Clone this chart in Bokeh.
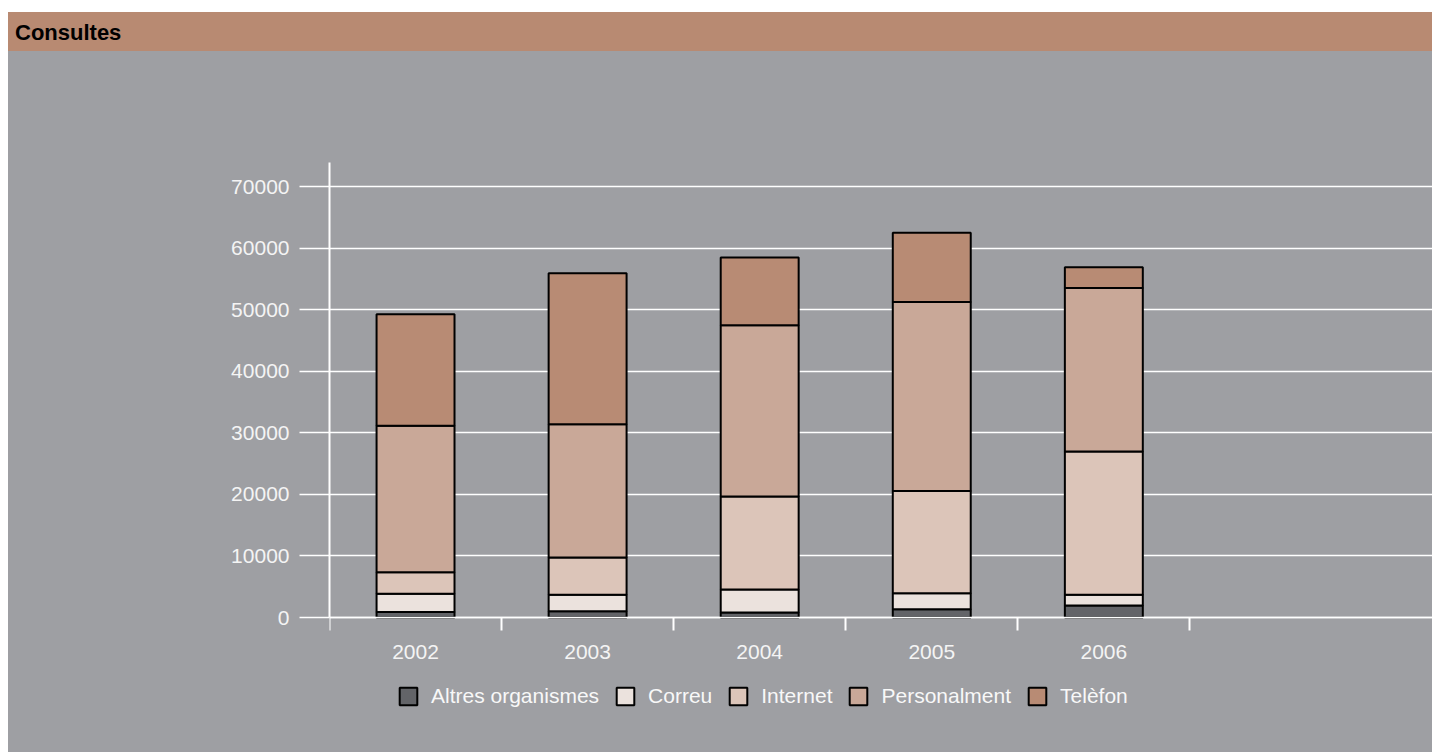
from bokeh.plotting import figure
from bokeh.layouts import column
from bokeh.models import (FixedTicker, LinearAxis, Legend, LegendItem, Range1d,
                          ColumnDataSource, Div)
from bokeh.embed import file_html
from bokeh.resources import INLINE

years = ["2002", "2003", "2004", "2005", "2006"]
series = ["Altres organismes", "Correu", "Internet", "Personalment", "Telèfon"]
altres = [900, 1000, 800, 1350, 1950]
correu = [2950, 2700, 3750, 2600, 1750]
internet = [3500, 6050, 15100, 16600, 23250]
personalment = [23800, 21650, 27800, 30700, 26550]
telefon = [18100, 24500, 11000, 11250, 3400]
y_ticks = [0, 10000, 20000, 30000, 40000, 50000, 60000, 70000]
colors = ["#636468", "#ebe2dd", "#dcc5b9", "#c9a898", "#b88b74"]

BG = "#9e9fa3"
BAR = "#b88a72"
FONT = "Liberation Sans"

# ---- title bar ----
title = Div(text="Consultes", width=1424, height=39, margin=(12, 0, 0, 8),
            styles={"background-color": BAR, "font-family": FONT, "font-size": "22px",
                    "font-weight": "bold", "color": "black", "line-height": "42px",
                    "padding-left": "7px", "box-sizing": "border-box",
                    "white-space": "nowrap"})

# ---- main chart ----
xs = [i + 0.5 for i in range(len(years))]
src = ColumnDataSource(dict(x=xs, s0=altres, s1=correu, s2=internet, s3=personalment, s4=telefon))

PX = 431 / 70000.0          # pixels per unit (0 -> 70000 spans 431 px)
Y_TOP = 455 / PX            # frame top 455 px above the zero line
Y_BOT = -135 / PX           # frame bottom 135 px below the zero line

p = figure(width=1424, height=701, output_backend="svg", toolbar_location=None,
           x_range=Range1d(0, 6.41), y_range=Range1d(Y_BOT, Y_TOP),
           min_border_left=321, min_border_right=0, min_border_top=111, min_border_bottom=0,
           x_axis_location=None, y_axis_location="left", margin=(0, 0, 0, 8),
           styles={"background-color": BG})
p.background_fill_color = BG
p.border_fill_color = BG
p.outline_line_color = None

ya = p.yaxis[0]
ya.bounds = (0, Y_TOP)
ya.ticker = FixedTicker(ticks=y_ticks)
ya.major_label_overrides = {v: str(v) for v in y_ticks}
ya.axis_line_color = "white"
ya.axis_line_width = 2
ya.major_tick_line_color = "white"
ya.major_tick_line_width = 1.5
ya.major_tick_out = 30
ya.major_tick_in = 0
ya.minor_tick_line_color = None
ya.major_label_standoff = 10
ya.major_label_text_color = "#f4f4f4"
ya.major_label_text_font = FONT
ya.major_label_text_font_size = "21px"

p.ygrid.grid_line_color = "white"
p.ygrid.grid_line_width = 1.5
p.ygrid.ticker = FixedTicker(ticks=y_ticks)
p.xgrid.grid_line_color = None

# x axis: category boundary ticks, sitting on the zero line
xt = LinearAxis(ticker=FixedTicker(ticks=list(range(0, len(years) + 1))), fixed_location=0)
xt.axis_line_color = "white"
xt.axis_line_width = 1.5
xt.major_tick_line_color = "white"
xt.major_tick_line_width = 2
xt.major_tick_out = 13
xt.major_tick_in = 0
xt.minor_tick_line_color = None
xt.major_label_overrides = {i: "" for i in range(0, len(years) + 1)}
xt.major_label_text_font_size = "1px"
xt.major_label_standoff = 0
p.add_layout(xt, "below")

# x axis: year labels
xl = LinearAxis(ticker=FixedTicker(ticks=xs), fixed_location=0)
xl.major_label_overrides = {x: y for x, y in zip(xs, years)}
xl.axis_line_color = None
xl.major_tick_line_color = None
xl.minor_tick_line_color = None
xl.major_tick_out = 0
xl.major_tick_in = 0
xl.major_label_standoff = 27
xl.major_label_text_color = "#f4f4f4"
xl.major_label_text_font = FONT
xl.major_label_text_font_size = "21px"
p.add_layout(xl, "below")

stackers = ["s0", "s1", "s2", "s3", "s4"]
rs = p.vbar_stack(stackers, x="x", width=0.453, source=src, fill_color=colors,
                  line_color="black", line_width=2)

legend = Legend(items=[LegendItem(label=n, renderers=[r]) for n, r in zip(series, rs)],
                orientation="horizontal", location=(68, 44))
legend.background_fill_alpha = 0
legend.border_line_color = None
legend.padding = 0
legend.margin = 0
legend.spacing = 15
legend.label_standoff = 12
legend.glyph_width = 22
legend.glyph_height = 22
legend.label_text_font = FONT
legend.label_text_font_size = "21px"
legend.label_text_color = "#f8f8f8"
p.add_layout(legend, "center")

layout = column(title, p, spacing=0)
open("out.html", "w").write(file_html(layout, INLINE))
